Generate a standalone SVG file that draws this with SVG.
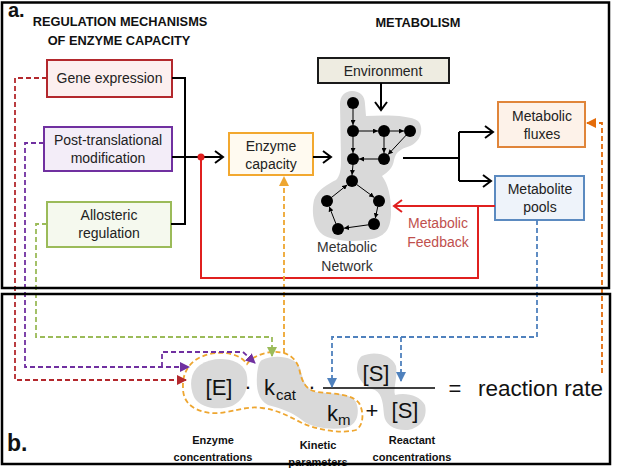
<svg xmlns="http://www.w3.org/2000/svg" width="624" height="468" viewBox="0 0 624 468">
<style>
text{font-family:"Liberation Sans",Arial,sans-serif;fill:#222}
.t{font-size:14px;text-anchor:middle}
.h{font-size:12.8px;font-weight:bold;text-anchor:middle;fill:#111}
.lb{font-size:11px;font-weight:bold;text-anchor:middle;fill:#111}
.f{font-size:22px;fill:#111}
.fs{font-size:15px;fill:#111}
.frame{fill:none;stroke:#000;stroke-width:2.5}
.blk{fill:none;stroke:#000;stroke-width:2}
.d{fill:none;stroke-width:1.8;stroke-dasharray:5 3}
.blob{fill:#d9d9d9}
.net line{stroke:#000;stroke-width:1}
.node{fill:#000}
</style>
<defs>
<marker id="chev" markerUnits="userSpaceOnUse" markerWidth="12" markerHeight="14" refX="10" refY="7" orient="auto"><path d="M2,1 L10,7 L2,13" fill="none" stroke="#000" stroke-width="2"/></marker>
<marker id="chevR" markerUnits="userSpaceOnUse" markerWidth="12" markerHeight="14" refX="10" refY="7" orient="auto"><path d="M2,1 L10,7 L2,13" fill="none" stroke="#e0201f" stroke-width="2"/></marker>
<marker id="sm" markerUnits="userSpaceOnUse" markerWidth="5" markerHeight="5" refX="5" refY="2.5" orient="auto"><path d="M0,0 L5,2.5 L0,5 z" fill="#000"/></marker>
<marker id="tRed" markerUnits="userSpaceOnUse" markerWidth="10" markerHeight="10" refX="9" refY="5" orient="auto"><path d="M0,0 L10,5 L0,10 z" fill="#b3282d"/></marker>
<marker id="tPur" markerUnits="userSpaceOnUse" markerWidth="10" markerHeight="10" refX="9" refY="5" orient="auto"><path d="M0,0 L10,5 L0,10 z" fill="#7030a0"/></marker>
<marker id="tGrn" markerUnits="userSpaceOnUse" markerWidth="10" markerHeight="10" refX="9" refY="5" orient="auto"><path d="M0,0 L10,5 L0,10 z" fill="#9bbb59"/></marker>
<marker id="tOr" markerUnits="userSpaceOnUse" markerWidth="10" markerHeight="10" refX="9" refY="5" orient="auto"><path d="M0,0 L10,5 L0,10 z" fill="#eea630"/></marker>
<marker id="tFx" markerUnits="userSpaceOnUse" markerWidth="10" markerHeight="10" refX="9" refY="5" orient="auto"><path d="M0,0 L10,5 L0,10 z" fill="#e46c0a"/></marker>
<marker id="tBl" markerUnits="userSpaceOnUse" markerWidth="10" markerHeight="10" refX="9" refY="5" orient="auto"><path d="M0,0 L10,5 L0,10 z" fill="#4f81bd"/></marker>
</defs>
<rect width="624" height="468" fill="#fff"/>

<!-- panel a labels -->
<text x="8" y="17" style="font-size:20px;font-weight:bold;fill:#111">a.</text>
<text class="h" x="120" y="26">REGULATION MECHANISMS</text>
<text class="h" x="119" y="45">OF ENZYME CAPACITY</text>
<text class="h" x="418" y="27">METABOLISM</text>

<!-- network blob -->
<g id="network">
<path class="blob" d="M352,91 C360,91 365,96 365,104 L366,116 C385,115 410,115 418,121 C424,127 422,141 410,146 C400,149 396,152 394,160 C393,168 388,172 382,176 C388,184 391,196 391,212 C391,228 386,236 372,239 C358,242 338,242 325,236 C314,230 311,214 314,200 C317,190 328,184 336,180 C340,176 341,170 341,160 L340,104 C340,96 345,91 352,91 Z"/>
<g class="net">
<line x1="353" y1="108.5" x2="353" y2="125" marker-end="url(#sm)"/>
<line x1="358.5" y1="131" x2="378" y2="131" marker-end="url(#sm)"/>
<line x1="389.5" y1="131" x2="404" y2="131" marker-end="url(#sm)"/>
<line x1="384" y1="136.5" x2="384" y2="153" marker-end="url(#sm)"/>
<line x1="406.3" y1="135" x2="388" y2="154.6" marker-end="url(#sm)"/>
<line x1="378.5" y1="159" x2="359" y2="159" marker-end="url(#sm)"/>
<line x1="353" y1="136.5" x2="353" y2="153" marker-end="url(#sm)"/>
<line x1="353" y1="164.5" x2="352" y2="175" marker-end="url(#sm)"/>
<line x1="356.4" y1="184.3" x2="374.2" y2="197.4" marker-end="url(#sm)"/>
<line x1="377.8" y1="206.4" x2="375.3" y2="218.2" marker-end="url(#sm)"/>
<line x1="368.5" y1="224.8" x2="344" y2="228.2" marker-end="url(#sm)"/>
<line x1="336" y1="223.9" x2="329.2" y2="206.6" marker-end="url(#sm)"/>
<line x1="331.3" y1="197.6" x2="347.3" y2="184.8" marker-end="url(#sm)"/>
</g>
<g class="node">
<circle cx="353" cy="103" r="6"/><circle cx="353" cy="131" r="6"/><circle cx="384" cy="131" r="6"/><circle cx="410" cy="131" r="6"/>
<circle cx="353" cy="159" r="6"/><circle cx="384" cy="159" r="6"/><circle cx="352" cy="181" r="6"/><circle cx="327" cy="201" r="6"/>
<circle cx="379" cy="201" r="6"/><circle cx="338" cy="229" r="6"/><circle cx="374" cy="224" r="6"/>
</g>
<text class="t" x="347" y="252" style="fill:#333">Metabolic</text>
<text class="t" x="347" y="271" style="fill:#333">Network</text>
</g>

<!-- nodes panel a -->
<g id="gene">
<rect x="47" y="60" width="125" height="37" fill="#fcefef" stroke="#b3282d" stroke-width="2"/>
<text class="t" x="109.5" y="83">Gene expression</text>
</g>
<g id="ptm">
<rect x="44" y="127" width="128" height="44" fill="#f3edf8" stroke="#7030a0" stroke-width="2"/>
<text class="t" x="108" y="145">Post-translational</text>
<text class="t" x="108" y="163">modification</text>
</g>
<g id="allo">
<rect x="47" y="202" width="124" height="45" fill="#f5f9ee" stroke="#9bbb59" stroke-width="2"/>
<text class="t" x="109" y="220">Allosteric</text>
<text class="t" x="109" y="238">regulation</text>
</g>
<g id="capacity">
<rect x="229" y="133" width="84" height="42" fill="#fffaf0" stroke="#f2a82f" stroke-width="2"/>
<text class="t" x="271" y="151">Enzyme</text>
<text class="t" x="271" y="169">capacity</text>
</g>
<g id="env">
<rect x="318" y="58" width="131" height="25" fill="#eeece1" stroke="#1a1a1a" stroke-width="2"/>
<text class="t" x="383" y="76">Environment</text>
</g>
<g id="fluxes">
<rect x="498" y="102" width="87" height="45" fill="#fdf2e9" stroke="#e0853a" stroke-width="2"/>
<text class="t" x="542" y="121">Metabolic</text>
<text class="t" x="542" y="139">fluxes</text>
</g>
<g id="pools">
<rect x="495" y="176" width="89" height="44" fill="#eef3fa" stroke="#5b8ac0" stroke-width="2"/>
<text class="t" x="540" y="194">Metabolite</text>
<text class="t" x="540" y="212">pools</text>
</g>
<g id="feedback">
<text class="t" x="438" y="228" style="fill:#c0504d">Metabolic</text>
<text class="t" x="438" y="247" style="fill:#c0504d">Feedback</text>
</g>

<!-- panel b blobs and formula -->
<g id="formula">
<path class="blob" d="M200,365 C215,355 240,358 246,372 C250,385 245,400 232,406 C218,411 200,408 194,397 C189,386 190,372 200,365 Z"/>
<path class="blob" d="M262,360 C275,354 295,356 300,368 C303,380 305,388 315,392 C330,394 350,392 356,402 C360,412 358,425 345,428 C330,430 312,428 302,420 C292,412 280,408 268,405 C258,400 256,388 257,375 C258,366 259,362 262,360 Z"/>
<path class="blob" d="M362,356 C375,350 392,355 396,366 C398,376 393,388 395,395 C405,392 420,395 425,405 C428,418 420,428 408,430 C395,431 385,425 384,415 C383,405 383,395 375,390 C365,387 358,380 357,370 C357,362 359,358 362,356 Z"/>
<text class="f" x="219" y="395" text-anchor="middle">[E]</text>
<text class="f" x="248" y="394" text-anchor="middle">·</text>
<text class="f" x="264" y="395">k</text>
<text class="fs" x="276" y="400">cat</text>
<text class="f" x="312" y="394" text-anchor="middle">·</text>
<text class="f" x="327" y="421">k</text>
<text class="fs" x="338" y="425">m</text>
<text class="f" x="372" y="418" text-anchor="middle">+</text>
<text class="f" x="376" y="381" text-anchor="middle">[S]</text>
<text class="f" x="405" y="418" text-anchor="middle">[S]</text>
<line x1="323" y1="388" x2="435" y2="388" stroke="#000" stroke-width="1.5"/>
<text class="f" x="455" y="396" text-anchor="middle">=</text>
<text class="f" x="478" y="396" style="font-size:22.5px">reaction rate</text>
</g>
<path id="kinetic-outline" class="d" stroke="#eea630" d="M183,388 C182,370 192,358 210,354 C225,351 240,354 247,364 C252,357 262,353 272,352 C285,351 295,356 299,368 C302,382 305,390 318,392 C335,394 352,394 359,403 C364,412 364,425 356,430 C340,434 318,430 302,423 C288,416 278,410 262,408 C248,406 240,410 226,412 C212,415 196,412 188,403 C184,398 183,393 183,388 Z"/>
<g id="labels-b">
<text x="7" y="451" style="font-size:23px;font-weight:bold;fill:#111">b.</text>
<text class="lb" x="213" y="444">Enzyme</text>
<text class="lb" x="213" y="461">concentrations</text>
<text class="lb" x="318" y="449">Kinetic</text>
<text class="lb" x="318" y="466">parameters</text>
<text class="lb" x="412" y="444">Reactant</text>
<text class="lb" x="412" y="461">concentrations</text>
</g>

<!-- connectors -->
<g id="connectors">
<path class="blk" d="M172,78 H185 V224 H171"/>
<path class="blk" d="M172,157 H223" marker-end="url(#chev)"/>
<path class="blk" d="M313,157 H331" marker-end="url(#chev)"/>
<path class="blk" d="M381,83 V110" marker-end="url(#chev)"/>
<path class="blk" d="M403,158 H459 M459,132 V181"/>
<path class="blk" d="M459,132 H493" marker-end="url(#chev)"/>
<path class="blk" d="M459,181 H491" marker-end="url(#chev)"/>
<path fill="none" stroke="#e0201f" stroke-width="2" d="M495,206 H394" marker-end="url(#chevR)"/>
<path fill="none" stroke="#e0201f" stroke-width="2" d="M478,206 V278 H201 V157"/>
<circle cx="201" cy="157" r="3.5" fill="#e0201f"/>
<path class="d" stroke="#b3282d" d="M47,78 H15 V380 H186" marker-end="url(#tRed)"/>
<path class="d" stroke="#7030a0" d="M44,143 H25 V367 H189" marker-end="url(#tPur)"/>
<path class="d" stroke="#7030a0" d="M162,367 V352 H243 L255,363" marker-end="url(#tPur)"/>
<path class="d" stroke="#9bbb59" d="M47,224 H36 V337 H272 V356" marker-end="url(#tGrn)"/>
<path class="d" stroke="#eea630" d="M284,353 V177" marker-end="url(#tOr)"/>
<path class="d" stroke="#e46c0a" d="M602,373 V123 H587" marker-end="url(#tFx)"/>
<path class="d" stroke="#4f81bd" d="M537,220 V337 H332 V387" marker-end="url(#tBl)"/>
<path class="d" stroke="#4f81bd" d="M401,337 V381" marker-end="url(#tBl)"/>
</g>

<!-- frames -->
<rect class="frame" x="2" y="2.5" width="607" height="285.5"/>
<rect class="frame" x="2" y="294" width="608" height="170"/>
</svg>
